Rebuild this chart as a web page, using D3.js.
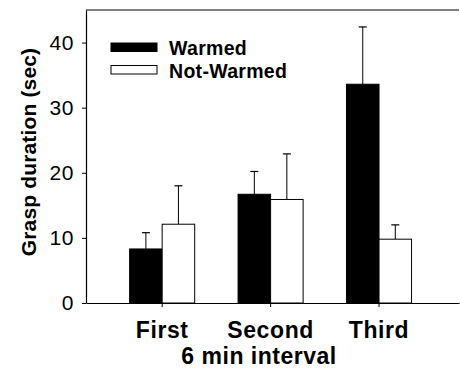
<!DOCTYPE html>
<html>
<head>
<meta charset="utf-8">
<script src="https://cdn.jsdelivr.net/npm/d3@7"></script>
<style>
  body { margin: 0; background: #fff; }
  text { font-family: "Liberation Sans", Arial, sans-serif; fill: #000; }
</style>
</head>
<body>
<script>
// Data
const intervals = ["First", "Second", "Third"];
const series = ["Warmed", "Not-Warmed"];
const warmed = [8.3, 16.7, 33.6];
const warmedErr = [2.5, 3.5, 8.8];
const notWarmed = [12.1, 15.9, 9.8];
const notWarmedErr = [5.9, 7.0, 2.2];
const yTicks = [0, 10, 20, 30, 40];

const seriesColors = {
    "Warmed": "#000",
    "Not-Warmed": "#fff"
};

// SVG variables
const width = 460,
    height = 385;

const margin = {top: 10, right: 1, bottom: 82, left: 86};

const svg = d3.select("body")
    .append("svg")
    .attr("width", width)
    .attr("height", height);

const x = d3.scaleBand()
    .domain(intervals)
    .range([margin.left, width - margin.right])
    .paddingInner(0)
    .paddingOuter(0.22)
    .align(0.46);

const y = d3.scaleLinear()
    .domain([0, 45])
    .range([height - margin.bottom, margin.top]);

const barWidth = x.bandwidth() * 0.3;

// flatten into rows for drawing
let rows = [];
intervals.forEach((c, i) => {
    rows.push({interval: c, series: "Warmed", value: warmed[i], err: warmedErr[i], side: -1});
    rows.push({interval: c, series: "Not-Warmed", value: notWarmed[i], err: notWarmedErr[i], side: 0});
});

const center = d => x(d.interval) + x.bandwidth() / 2;

// error bars first (only the upper half shows above the bar)
const errG = svg.append("g").attr("class", "errors");
errG.selectAll("line.stem")
    .data(rows)
    .join("line")
    .attr("class", "stem")
    .attr("x1", d => center(d) + (d.side + 0.5) * barWidth)
    .attr("x2", d => center(d) + (d.side + 0.5) * barWidth)
    .attr("y1", d => y(d.value))
    .attr("y2", d => y(d.value + d.err))
    .attr("stroke", "#000")
    .attr("stroke-width", 1);

errG.selectAll("line.cap")
    .data(rows)
    .join("line")
    .attr("class", "cap")
    .attr("x1", d => center(d) + (d.side + 0.5) * barWidth - 4)
    .attr("x2", d => center(d) + (d.side + 0.5) * barWidth + 4)
    .attr("y1", d => y(d.value + d.err))
    .attr("y2", d => y(d.value + d.err))
    .attr("stroke", "#000")
    .attr("stroke-width", 1.2);

// bars
svg.append("g")
    .attr("class", "bars")
    .selectAll("rect")
    .data(rows)
    .join("rect")
    .attr("x", d => center(d) + d.side * barWidth)
    .attr("y", d => y(d.value))
    .attr("width", barWidth)
    .attr("height", d => y(0) - y(d.value))
    .style("fill", d => seriesColors[d.series])
    .attr("stroke", "#000")
    .attr("stroke-width", 1);

// frame: top line
svg.append("line")
    .attr("x1", margin.left)
    .attr("x2", width - margin.right)
    .attr("y1", y(45))
    .attr("y2", y(45))
    .attr("stroke", "#000")
    .attr("stroke-width", 1.2);

// y axis
const yAxis = svg.append("g")
    .attr("transform", `translate(${margin.left},0)`)
    .call(d3.axisLeft(y).tickValues(yTicks).tickSize(4).tickPadding(8).tickSizeOuter(0));
yAxis.select(".domain").attr("stroke-width", 1.2);
yAxis.selectAll("text")
    .style("font-size", "21px")
    .style("letter-spacing", "0.6px");

// x axis
const xAxis = svg.append("g")
    .attr("transform", `translate(0,${y(0)})`)
    .call(d3.axisBottom(x).tickSize(4).tickPadding(15).tickSizeOuter(0));
xAxis.select(".domain").attr("stroke-width", 1.2);
xAxis.selectAll("text")
    .style("font-size", "23px")
    .style("font-weight", "bold")
    .style("letter-spacing", "0.6px");

// axis titles
svg.append("text")
    .attr("x", 259)
    .attr("y", 364)
    .attr("text-anchor", "middle")
    .style("font-size", "23px")
    .style("font-weight", "bold")
    .style("letter-spacing", "0.5px")
    .text("6 min interval");

svg.append("text")
    .attr("transform", "translate(36,152) rotate(-90)")
    .attr("text-anchor", "middle")
    .style("font-size", "21px")
    .style("font-weight", "bold")
    .style("letter-spacing", "0.15px")
    .text("Grasp duration (sec)");

// legend
const legend = svg.append("g")
    .attr("class", "legend")
    .attr("transform", "translate(111,55)");

const item = legend.selectAll("g")
    .data(series)
    .join("g")
    .attr("transform", (d, i) => `translate(0,${i * 22.5})`);

item.append("rect")
    .attr("x", 0)
    .attr("y", -12)
    .attr("width", 46)
    .attr("height", 8.5)
    .style("fill", d => seriesColors[d])
    .attr("stroke", "#000")
    .attr("stroke-width", 1);

item.append("text")
    .attr("x", 58)
    .attr("y", 0)
    .style("font-size", "19.5px")
    .style("font-weight", "bold")
    .style("letter-spacing", "0.3px")
    .text(d => d);
</script>
</body>
</html>
